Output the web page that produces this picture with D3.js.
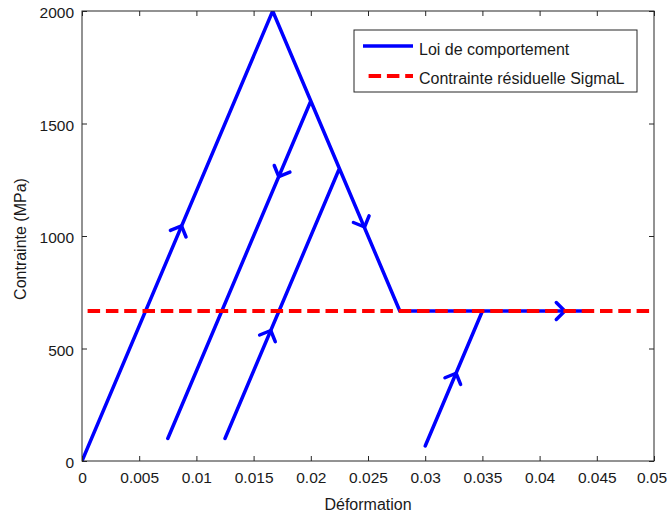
<!DOCTYPE html>
<html>
<head>
<meta charset="utf-8">
<script src="https://cdn.jsdelivr.net/npm/d3@7"></script>
<style>
  html, body { margin: 0; padding: 0; background: #fff; }
  svg { display: block; font-family: "Liberation Sans", Arial, Helvetica, sans-serif; }
</style>
</head>
<body>
<svg id="chart" width="667" height="515"></svg>
<script>
// ---- data ----
const xTicks = [0, 0.005, 0.01, 0.015, 0.02, 0.025, 0.03, 0.035, 0.04, 0.045, 0.05];
const xTickLabels = ["0", "0.005", "0.01", "0.015", "0.02", "0.025", "0.03", "0.035", "0.04", "0.045", "0.05"];
const yTicks = [0, 500, 1000, 1500, 2000];
const yTickLabels = ["0", "500", "1000", "1500", "2000"];

// main behaviour path (strain, stress in MPa)
const pathStrain = [0, 0.01667, 0.02, 0.0075, 0.02, 0.0225, 0.0125, 0.0225, 0.02778, 0.044];
const pathStress = [0, 2000, 1600, 100, 1600, 1300, 100, 1300, 666.7, 666.7];
// separate reloading branch
const branchStrain = [0.03, 0.035];
const branchStress = [66.7, 666.7];

// residual stress SigmaL
const sigmaL = 666.7;

// arrow tips (strain, stress) and direction segment (from -> to)
const arrowStrain = [0.0087, 0.0172, 0.0247, 0.0165, 0.0327, 0.0422];
const arrowStress = [1045, 1264, 1040, 580, 390, 666.7];
const arrowFromStrain = [0, 0.02, 0.01667, 0.0125, 0.03, 0.035];
const arrowFromStress = [0, 1600, 2000, 100, 66.7, 666.7];
const arrowToStrain = [0.01667, 0.0075, 0.02778, 0.0225, 0.035, 0.044];
const arrowToStress = [2000, 100, 666.7, 1300, 666.7, 666.7];

const legendLabels = ["Loi de comportement", "Contrainte résiduelle SigmaL"];
const xLabel = "Déformation";
const yLabel = "Contrainte (MPa)";

// ---- layout ----
const W = 667, H = 515;
const margin = { left: 82, right: 13, top: 11, bottom: 54 };
const iw = W - margin.left - margin.right;
const ih = H - margin.top - margin.bottom;

const svg = d3.select("#chart");
const g = svg.append("g").attr("transform", `translate(${margin.left},${margin.top})`);

const x = d3.scaleLinear().domain([0, 0.05]).range([0, iw]);
const y = d3.scaleLinear().domain([0, 2000]).range([ih, 0]);

const blue = "#0000ff", red = "#ff0000", axisCol = "#262626", textCol = "#1a1a1a";
const font = '"Liberation Sans", Arial, Helvetica, sans-serif';
const blueW = 3.5, redW = 3.8, dash = "12.5,5.8", dashOff = 12.7;

// clip
svg.append("defs").append("clipPath").attr("id", "clip")
  .append("rect").attr("x", 0).attr("y", 0).attr("width", iw).attr("height", ih);

const plot = g.append("g").attr("clip-path", "url(#clip)");

const line = d3.line().x(d => x(d[0])).y(d => y(d[1]));

// main path
plot.append("path")
  .datum(pathStrain.map((e, i) => [e, pathStress[i]]))
  .attr("d", line)
  .attr("fill", "none").attr("stroke", blue).attr("stroke-width", blueW)
  .attr("stroke-linejoin", "round").attr("stroke-linecap", "round");

plot.append("path")
  .datum(branchStrain.map((e, i) => [e, branchStress[i]]))
  .attr("d", line)
  .attr("fill", "none").attr("stroke", blue).attr("stroke-width", blueW)
  .attr("stroke-linecap", "round");

// arrows (chevrons)
arrowStrain.forEach((e, i) => {
  const tx = x(e), ty = y(arrowStress[i]);
  const dx = x(arrowToStrain[i]) - x(arrowFromStrain[i]);
  const dy = y(arrowToStress[i]) - y(arrowFromStress[i]);
  const len = Math.hypot(dx, dy);
  const ux = dx / len, uy = dy / len;
  const L = 12, a = Math.PI / 4;
  const bx = -ux, by = -uy;
  const w1 = [tx + L * (bx * Math.cos(a) - by * Math.sin(a)), ty + L * (bx * Math.sin(a) + by * Math.cos(a))];
  const w2 = [tx + L * (bx * Math.cos(-a) - by * Math.sin(-a)), ty + L * (bx * Math.sin(-a) + by * Math.cos(-a))];
  plot.append("path")
    .attr("d", `M${w1[0]},${w1[1]}L${tx},${ty}L${w2[0]},${w2[1]}`)
    .attr("fill", "none").attr("stroke", blue).attr("stroke-width", blueW)
    .attr("stroke-linejoin", "round").attr("stroke-linecap", "round");
});

// residual stress line
plot.append("line")
  .attr("x1", x(0)).attr("x2", x(0.05))
  .attr("y1", y(sigmaL)).attr("y2", y(sigmaL))
  .attr("stroke", red).attr("stroke-width", redW)
  .attr("stroke-dasharray", dash).attr("stroke-dashoffset", dashOff);

// ---- axes ----
const tickLen = 5;
const xAxis = d3.axisBottom(x).tickValues(xTicks).tickFormat((d, i) => xTickLabels[i])
  .tickSizeInner(-tickLen).tickSizeOuter(0).tickPadding(11);
const yAxis = d3.axisLeft(y).tickValues(yTicks).tickFormat((d, i) => yTickLabels[i])
  .tickSizeInner(-tickLen).tickSizeOuter(0).tickPadding(8);
const xAxisTop = d3.axisTop(x).tickValues(xTicks).tickFormat("").tickSizeInner(-tickLen).tickSizeOuter(0);
const yAxisRight = d3.axisRight(y).tickValues(yTicks).tickFormat("").tickSizeInner(-tickLen).tickSizeOuter(0);

function styleAxis(sel) {
  sel.select(".domain").remove();
  sel.selectAll("line").attr("stroke", axisCol);
  sel.selectAll("text").attr("fill", textCol).style("font-size", "15.5px")
    .style("font-family", font);
}

const gx = g.append("g").attr("transform", `translate(0,${ih})`).call(xAxis).call(styleAxis);
// keep the last label inside the window
gx.selectAll(".tick text").filter((d, i, n) => i === n.length - 1).attr("dx", -2.5);
g.append("g").call(yAxis).call(styleAxis).selectAll("text").attr("dy", "0.42em");
g.append("g").call(xAxisTop).call(styleAxis);
g.append("g").attr("transform", `translate(${iw},0)`).call(yAxisRight).call(styleAxis);

// box
g.append("rect").attr("x", 0).attr("y", 0).attr("width", iw).attr("height", ih)
  .attr("fill", "none").attr("stroke", axisCol).attr("stroke-width", 1);

// axis labels
svg.append("text").attr("x", margin.left + iw / 2).attr("y", 510)
  .attr("text-anchor", "middle").attr("fill", textCol).style("font-size", "16px")
  .text(xLabel);
svg.append("text")
  .attr("transform", `translate(26,239) rotate(-90)`)
  .attr("text-anchor", "middle").attr("fill", textCol).style("font-size", "16px")
  .text(yLabel);

// ---- legend ----
const lg = svg.append("g").attr("transform", "translate(354,30)");
lg.append("rect").attr("x", 0).attr("y", 0).attr("width", 283).attr("height", 62)
  .attr("fill", "#fff").attr("stroke", axisCol).attr("stroke-width", 1);
lg.append("line").attr("x1", 9).attr("x2", 59).attr("y1", 16).attr("y2", 16)
  .attr("stroke", blue).attr("stroke-width", blueW);
lg.append("line").attr("x1", 9).attr("x2", 59).attr("y1", 46).attr("y2", 46)
  .attr("stroke", red).attr("stroke-width", redW)
  .attr("stroke-dasharray", dash).attr("stroke-dashoffset", dashOff);
lg.selectAll("text.lab").data(legendLabels).join("text").attr("class", "lab")
  .attr("x", 65).attr("y", (d, i) => 25 + i * 29)
  .attr("fill", textCol).style("font-size", "16px")
  .text(d => d);
</script>
</body>
</html>
